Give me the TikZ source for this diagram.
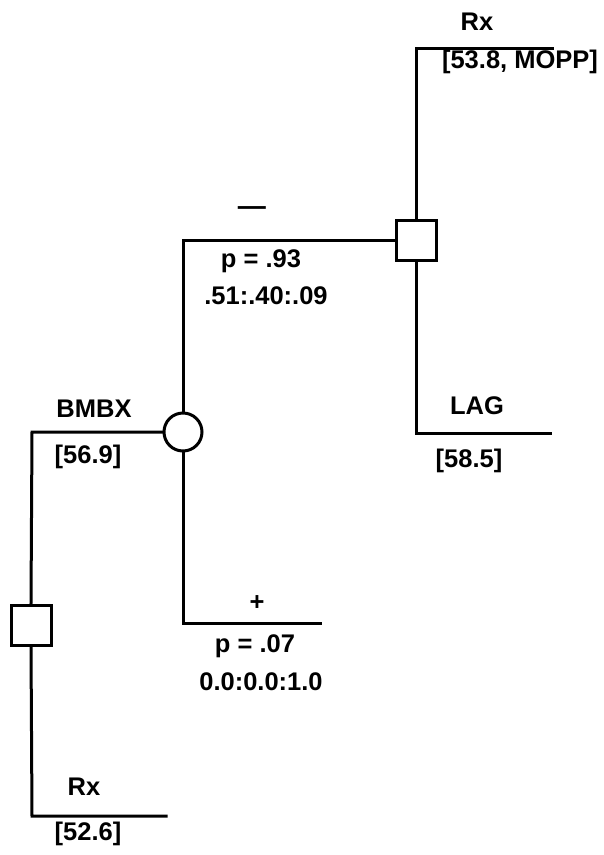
\documentclass[tikz,border=0pt]{standalone}
\usepackage{fontspec}
\setmainfont{Liberation Sans}
\begin{document}
\begin{tikzpicture}[x=1pt,y=-1pt,
  ln/.style={line width=3pt, line cap=rect},
  decbox/.style={draw, line width=3pt, minimum size=40pt, inner sep=0pt, fill=white},
  chancenode/.style={draw, circle, line width=3pt, minimum size=38pt, inner sep=0pt, fill=white},
  lbl/.style={font=\fontsize{25.5}{30}\selectfont\bfseries, inner sep=0pt, anchor=center}]
\useasboundingbox (0,0) rectangle (604,855);
% corner coordinates
\coordinate (tlc) at (416,48);
\coordinate (tre) at (552,48);
\coordinate (lagc) at (416,433);
\coordinate (lage) at (550,433);
\coordinate (mc) at (183,240);
\coordinate (pc) at (183,623);
\coordinate (pe) at (320,623);
\coordinate (bc) at (32,432);
\coordinate (lc) at (32,816);
\coordinate (le) at (166,816);
% nodes
\node[decbox] (d2) at (416,240) {};
\node[chancenode] (ch) at (183,432) {};
\node[decbox] (d1) at (31,625) {};
% connectors
\draw[ln] (d2.north) -- (tlc) -- (tre);
\draw[ln] (d2.south) -- (lagc) -- (lage);
\draw[ln] (ch.north) -- (mc) -- (d2.west);
\draw[ln] (ch.south) -- (pc) -- (pe);
\draw[ln] (ch.west) -- (bc) -- (d1.north);
\draw[ln] (d1.south) -- (lc) -- (le);
% labels
\node[lbl] (rxt) at (477,22) {Rx};
\node[lbl] (mopp) at (520,62) {[53.8, MOPP]};
\node[lbl, scale=1.1] (neg) at (252,211) {—};
\node[lbl] (p93) at (261,261) {p = .93};
\node[lbl] (r93) at (266,296) {.51:.40:.09};
\node[lbl] (lag) at (477,406) {LAG};
\node[lbl] (v585) at (469,461) {[58.5]};
\node[lbl] (bmbx) at (94,409) {BMBX};
\node[lbl] (v569) at (88,457) {[56.9]};
\node[lbl] (pos) at (257,603) {+};
\node[lbl] (p07) at (255,646) {p = .07};
\node[lbl] (r07) at (261,682) {0.0:0.0:1.0};
\node[lbl] (rxb) at (84,787) {Rx};
\node[lbl] (v526) at (88,834) {[52.6]};
\end{tikzpicture}
\end{document}
